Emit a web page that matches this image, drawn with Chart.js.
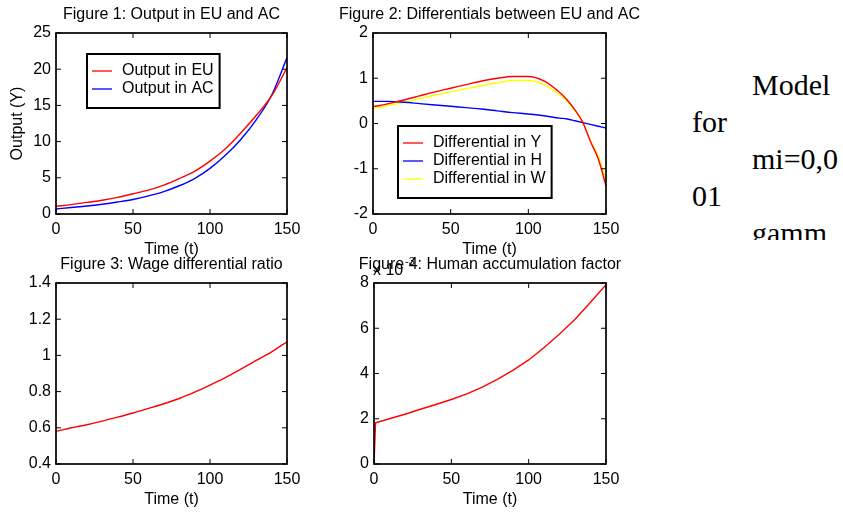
<!DOCTYPE html>
<html>
<head>
<meta charset="utf-8">
<script src="https://cdn.jsdelivr.net/npm/chart.js"></script>
<style>
  body { margin: 0; width: 843px; height: 515px; background: #fff; position: relative; overflow: hidden; }
  canvas { position: absolute; }
  #note {
    position: absolute; left: 692px; top: 66px; width: 151px; height: 174px;
    overflow: hidden; white-space: nowrap;
    font-family: "Liberation Serif", "Times New Roman", serif; font-size: 30px; line-height: 37px; color: #000;
  }
  #note .in { padding-left: 60px; }
</style>
</head>
<body>
<canvas id="fig1" width="343" height="262" style="left:0;top:0"></canvas>
<canvas id="fig2" width="339" height="262" style="left:320px;top:0"></canvas>
<canvas id="fig3" width="343" height="262" style="left:0;top:250px"></canvas>
<canvas id="fig4" width="340" height="262" style="left:320px;top:250px"></canvas>
<div id="note">
  <div class="in">Model</div>
  <div>for</div>
  <div class="in">mi=0,0</div>
  <div>01</div>
  <div class="in">gamm</div>
</div>
<script>
// values
const times = [0, 10, 20, 30, 40, 50, 60, 70, 80, 90, 100, 110, 120, 130, 140, 150];
const outputEU = [1.05, 1.3, 1.6, 1.9, 2.3, 2.8, 3.3, 4.0, 4.9, 5.9, 7.3, 9.0, 11.2, 13.6, 16.3, 20.2];
const outputAC = [0.7, 0.9, 1.1, 1.35, 1.65, 2.0, 2.5, 3.1, 3.9, 4.9, 6.3, 8.1, 10.3, 13.0, 16.4, 21.6];

const diffTimes = [0, 10, 20, 30, 40, 50, 60, 70, 80, 90, 100, 110, 120, 125, 130, 135, 140, 145, 150];
const diffY = [0.37, 0.44, 0.52, 0.61, 0.70, 0.78, 0.86, 0.94, 1.00, 1.04, 1.04, 0.94, 0.69, 0.52, 0.30, 0.03, -0.40, -0.78, -1.38];
const diffH = [0.49, 0.49, 0.47, 0.44, 0.41, 0.38, 0.35, 0.32, 0.28, 0.24, 0.21, 0.17, 0.12, 0.10, 0.06, 0.02, -0.02, -0.06, -0.10];
const diffW = [0.33, 0.40, 0.47, 0.55, 0.63, 0.70, 0.77, 0.84, 0.90, 0.95, 0.95, 0.86, 0.64, 0.49, 0.28, 0.02, -0.38, -0.72, -1.25];

const wageRatio = [0.58, 0.60, 0.617, 0.637, 0.659, 0.682, 0.707, 0.733, 0.762, 0.797, 0.836, 0.877, 0.924, 0.972, 1.02, 1.075];

const accumTimes = [0, 1, 10, 20, 30, 40, 50, 60, 70, 80, 90, 100, 110, 120, 130, 140, 150];
const accumFactor = [0, 1.82, 2.0, 2.2, 2.42, 2.63, 2.85, 3.1, 3.4, 3.75, 4.15, 4.6, 5.15, 5.75, 6.4, 7.15, 7.92]; // x 10^-3

const FONT = "'Liberation Sans', Arial, sans-serif";
const RED = '#ff0000', BLUE = '#0000ff', YELLOW = '#ffff00';

function pts(xs, ys) {
  return xs.map((x, i) => ({ x: x, y: ys[i] }));
}

function line(label, xs, ys, color, straight) {
  const ds = {
    label: label,
    data: pts(xs, ys),
    borderColor: color,
    backgroundColor: color,
    borderWidth: 1.4,
    pointRadius: 0
  };
  if (straight) ds.tension = 0;
  else ds.cubicInterpolationMode = 'monotone';
  return ds;
}

// matlab style box with inward ticks on all sides
const frameTicks = {
  id: 'frameTicks',
  afterDatasetsDraw(chart) {
    const { ctx, chartArea: a, scales: { x, y } } = chart;
    ctx.save();
    ctx.strokeStyle = '#000';
    ctx.lineWidth = 1;
    ctx.beginPath();
    x.ticks.forEach(t => {
      const px = x.getPixelForValue(t.value);
      ctx.moveTo(px, a.bottom); ctx.lineTo(px, a.bottom - 5);
      ctx.moveTo(px, a.top); ctx.lineTo(px, a.top + 5);
    });
    y.ticks.forEach(t => {
      const py = y.getPixelForValue(t.value);
      ctx.moveTo(a.left, py); ctx.lineTo(a.left + 5, py);
      ctx.moveTo(a.right, py); ctx.lineTo(a.right - 5, py);
    });
    ctx.stroke();
    ctx.lineWidth = 1.7;
    ctx.strokeRect(a.left, a.top, a.width, a.height);
    ctx.restore();
  }
};

const boxLegend = {
  id: 'boxLegend',
  afterDatasetsDraw(chart, args, opts) {
    if (!opts.show) return;
    const { ctx, chartArea: a } = chart;
    const sets = chart.data.datasets;
    ctx.save();
    ctx.font = '16px ' + FONT;
    const textW = Math.max(...sets.map(s => ctx.measureText(s.label).width));
    const left = a.left + opts.x, top = a.top + opts.y;
    const rowH = 18;
    const w = 5 + 20 + 10 + textW + 6;
    const h = rowH * (sets.length - 1) + 36;
    ctx.fillStyle = '#fff';
    ctx.fillRect(left, top, w, h);
    ctx.strokeStyle = '#000';
    ctx.lineWidth = 2;
    ctx.strokeRect(left, top, w, h);
    sets.forEach((s, i) => {
      const yy = top + 17 + i * rowH;
      ctx.strokeStyle = s.borderColor;
      ctx.lineWidth = 1.3;
      ctx.beginPath();
      ctx.moveTo(left + 5, yy); ctx.lineTo(left + 25, yy);
      ctx.stroke();
      ctx.fillStyle = '#000';
      ctx.textBaseline = 'middle';
      ctx.fillText(s.label, left + 35, yy);
    });
    ctx.restore();
  }
};

const exponent = {
  id: 'exponent',
  afterDraw(chart, args, opts) {
    if (!opts.show) return;
    const { ctx, chartArea: a } = chart;
    ctx.save();
    ctx.fillStyle = '#000';
    ctx.textBaseline = 'alphabetic';
    ctx.font = '16px ' + FONT;
    ctx.fillText('x 10', a.left - 1, a.top - 8);
    ctx.font = '11px ' + FONT;
    ctx.fillText('-3', a.left + 31, a.top - 18);
    ctx.restore();
  }
};

function tickLabel(v) {
  return String(Math.round(v * 10) / 10);
}

function makeChart(id, cfg) {
  const font = { family: FONT, size: 16 };
  const noGrid = { display: false, drawTicks: false };
  return new Chart(document.getElementById(id), {
    type: 'line',
    data: { datasets: cfg.datasets },
    options: {
      responsive: false,
      animation: false,
      devicePixelRatio: 1,
      layout: { padding: 0 },
      plugins: {
        legend: { display: false },
        tooltip: { enabled: false },
        title: {
          display: true,
          text: cfg.title,
          color: '#000',
          font: { family: FONT, size: 16, weight: 'normal' },
          padding: { top: 5, bottom: 8.8 }
        },
        boxLegend: cfg.legend || { show: false },
        exponent: { show: !!cfg.exponent }
      },
      scales: {
        x: {
          type: 'linear',
          min: 0, max: 150,
          ticks: { stepSize: 50, color: '#000', font: font, padding: 6, maxRotation: 0 },
          grid: noGrid,
          border: { display: false },
          title: { display: true, text: 'Time (t)', color: '#000', font: font, padding: { top: 0, bottom: 2.4 } },
          afterFit(s) { s.height = 48; s.paddingLeft = 0; s.paddingRight = 0; }
        },
        y: {
          min: cfg.yMin, max: cfg.yMax,
          ticks: { stepSize: cfg.yStep, color: '#000', font: font, padding: 5, callback: tickLabel },
          grid: noGrid,
          border: { display: false },
          title: { display: !!cfg.yTitle, text: cfg.yTitle || '', color: '#000', font: font, padding: { top: 8.4, bottom: 0 } },
          afterFit(s) { s.width = cfg.yWidth; s.paddingTop = 0; s.paddingBottom = 0; }
        },
        // empty right axis so the title centres over the plot box
        yPad: {
          position: 'right',
          ticks: { display: false },
          grid: noGrid,
          border: { display: false },
          afterFit(s) { s.width = cfg.yWidth; s.paddingTop = 0; s.paddingBottom = 0; }
        }
      }
    },
    plugins: [frameTicks, boxLegend, exponent]
  });
}

makeChart('fig1', {
  title: 'Figure 1: Output in EU and AC',
  yMin: 0, yMax: 25, yStep: 5, yTitle: 'Output (Y)', yWidth: 56,
  datasets: [
    line('Output in EU', times, outputEU, RED),
    line('Output in AC', times, outputAC, BLUE)
  ],
  legend: { show: true, x: 31, y: 21 }
});

makeChart('fig2', {
  title: 'Figure 2: Differentials between EU and AC',
  yMin: -2, yMax: 2, yStep: 1, yWidth: 53,
  datasets: [
    line('Differential in Y', diffTimes, diffY, RED),
    line('Differential in H', diffTimes, diffH, BLUE),
    line('Differential in W', diffTimes, diffW, YELLOW)
  ],
  legend: { show: true, x: 25, y: 93 }
});

makeChart('fig3', {
  title: 'Figure 3: Wage differential ratio',
  yMin: 0.4, yMax: 1.4, yStep: 0.2, yWidth: 56,
  datasets: [line('Wage differential ratio', times, wageRatio, RED)]
});

makeChart('fig4', {
  title: 'Figure 4: Human accumulation factor',
  yMin: 0, yMax: 8, yStep: 2, yWidth: 54,
  datasets: [line('Human accumulation factor', accumTimes, accumFactor, RED, true)],
  exponent: true
});
</script>
</body>
</html>
